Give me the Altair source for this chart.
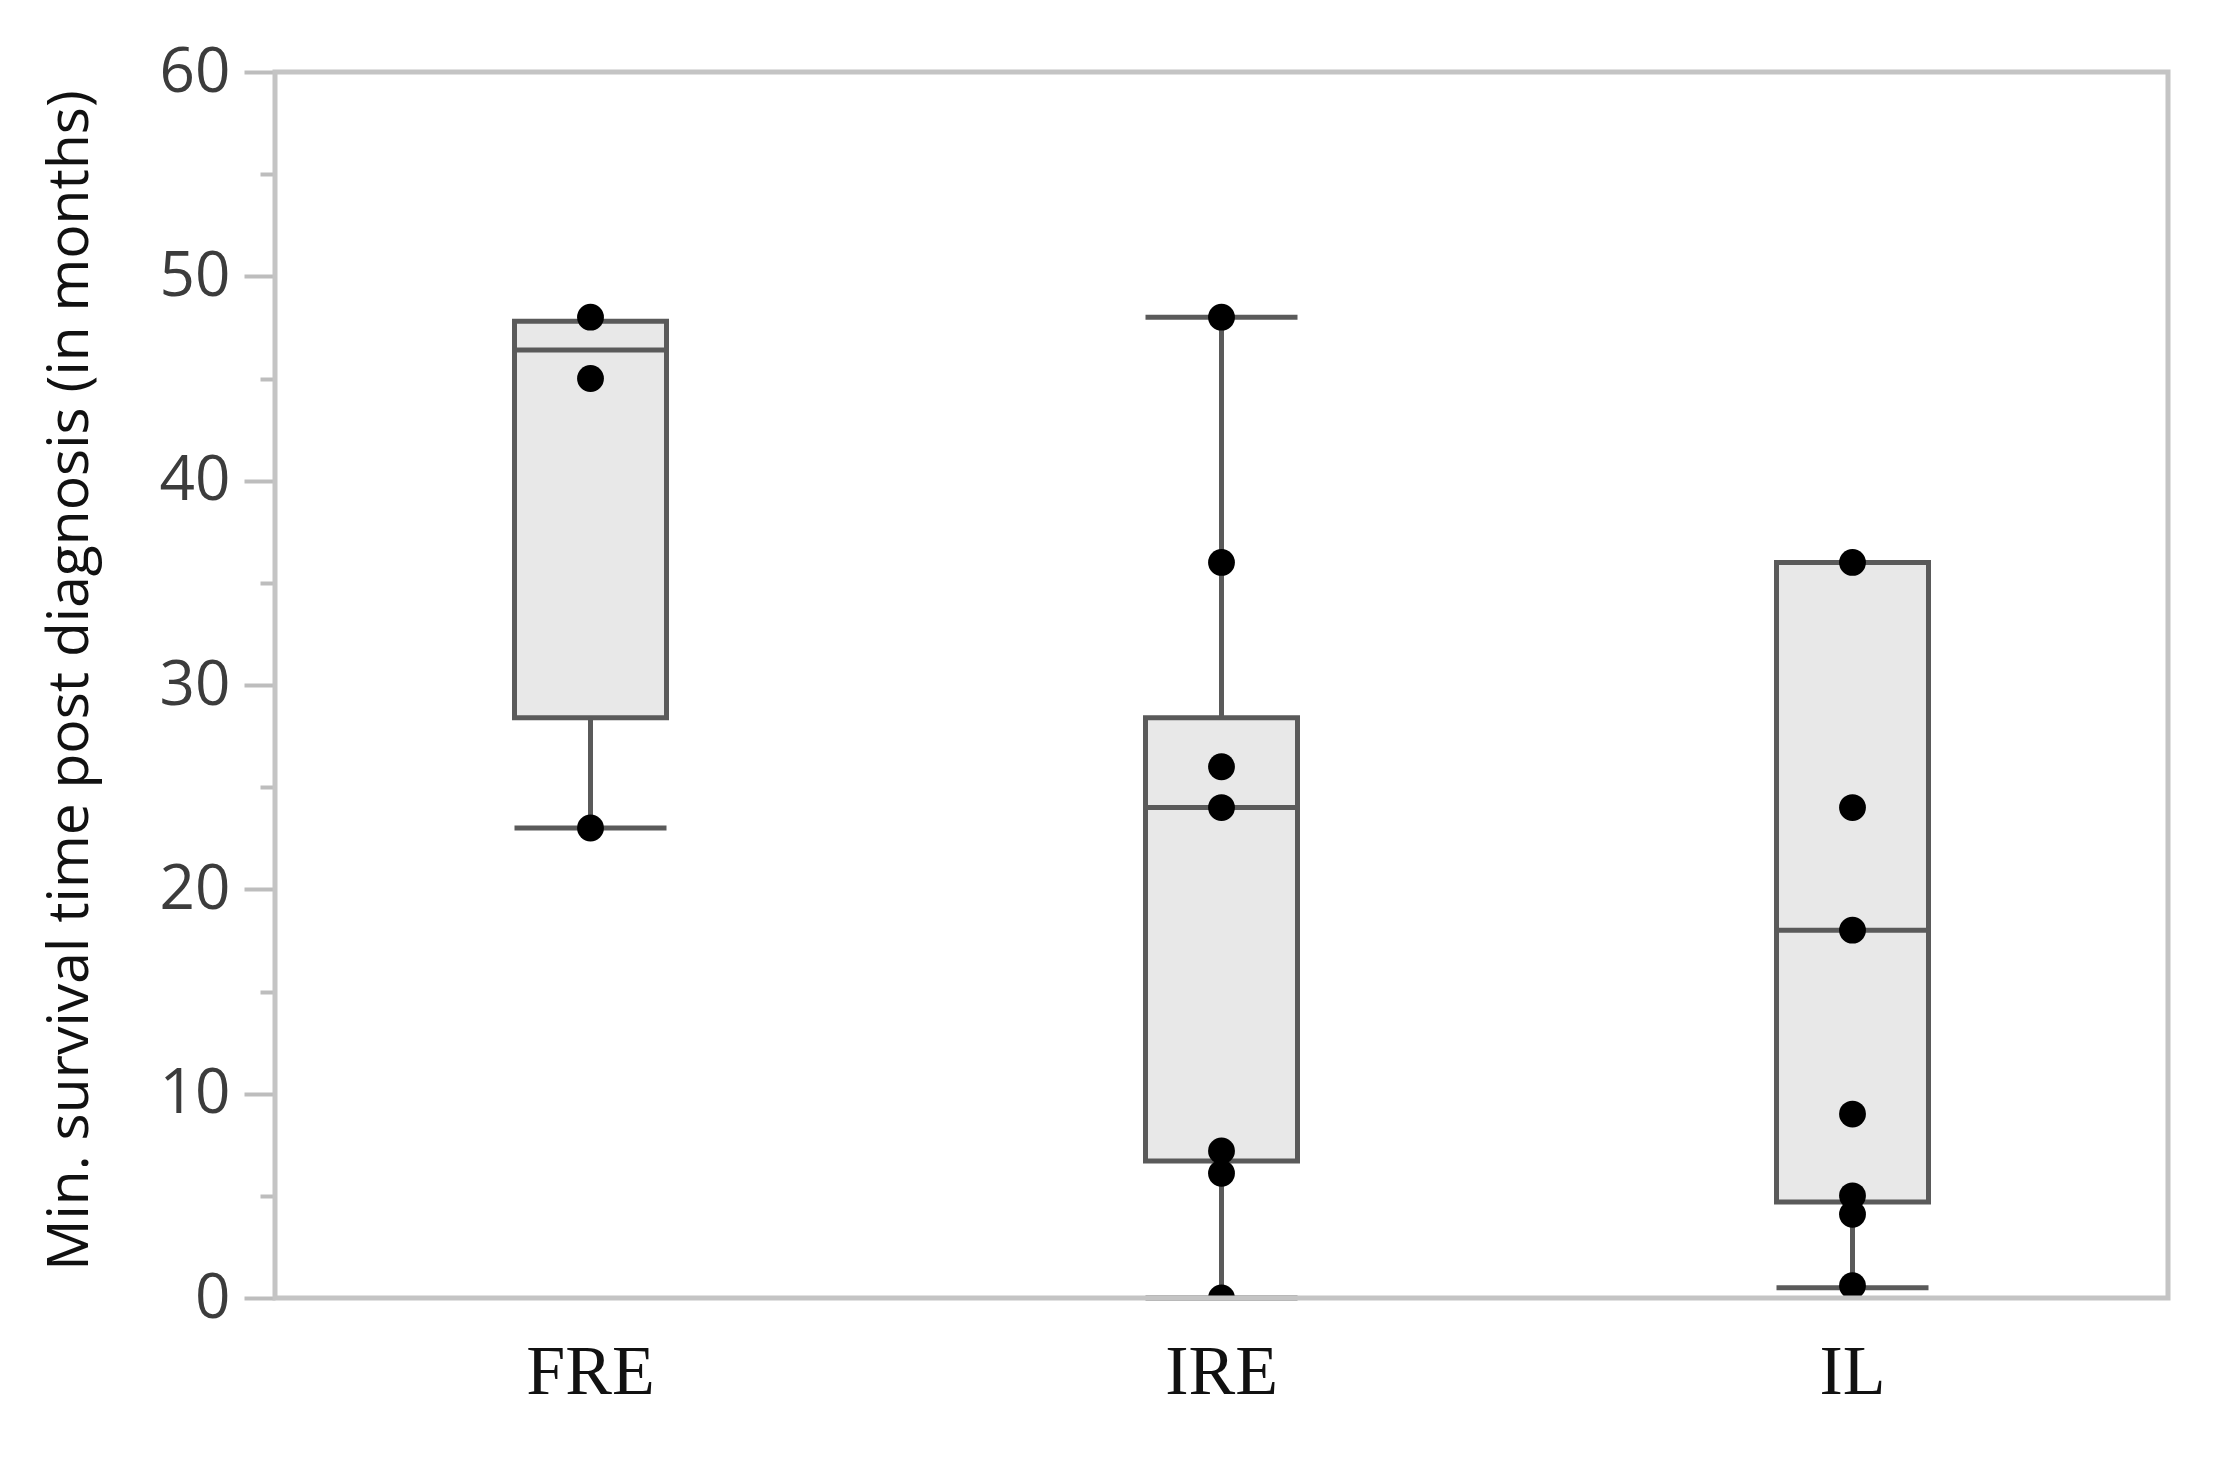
import altair as alt
import pandas as pd

# ---- data ----
categories = ["FRE", "IRE", "IL"]
q1 = [28.4, 6.7, 4.7]
median = [46.4, 24.0, 18.0]
q3 = [47.8, 28.4, 36.0]
whisker_low = [23.0, 0.0, 0.5]
whisker_high = [47.8, 48.0, 36.0]

points_fre = [48.0, 45.0, 23.0]
points_ire = [48.0, 36.0, 26.0, 24.0, 7.2, 6.1, 0.0]
points_il = [36.0, 24.0, 18.0, 9.0, 5.0, 4.1, 0.6]

y_axis_values = [0, 5, 10, 15, 20, 25, 30, 35, 40, 45, 50, 55, 60]
y_title = "Min. survival time post diagnosis (in months)"

# ---- tables ----
box_df = pd.DataFrame({
    "group": categories, "q1": q1, "median": median, "q3": q3,
    "lo": whisker_low, "hi": whisker_high,
})
pts_df = pd.DataFrame(
    [{"group": "FRE", "v": v} for v in points_fre]
    + [{"group": "IRE", "v": v} for v in points_ire]
    + [{"group": "IL", "v": v} for v in points_il]
)
whisk_df = pd.DataFrame(
    [{"group": g, "a": lo, "b": a} for g, lo, a in zip(categories, whisker_low, q1) if lo < a]
    + [{"group": g, "a": b, "b": hi} for g, b, hi in zip(categories, q3, whisker_high) if hi > b]
)
cap_df = pd.DataFrame(
    [{"group": g, "v": lo} for g, lo, a in zip(categories, whisker_low, q1) if lo < a]
    + [{"group": g, "v": hi} for g, b, hi in zip(categories, q3, whisker_high) if hi > b]
)

PW, PH = 1893, 1226
BOX_W = 152
LINE = "#5a5a5a"

x_enc = alt.X(
    "group:N", sort=categories,
    scale=alt.Scale(paddingInner=0, paddingOuter=0),
    axis=alt.Axis(
        title=None, labelAngle=0, ticks=False, domain=False,
        labelFont="Liberation Serif", labelFontSize=70, labelColor="#111111",
        labelPadding=40, labelBaseline="top",
    ),
)
y_scale = alt.Scale(domain=[0, 60], nice=False, zero=True)
y_axis = alt.Axis(
    title=y_title, grid=False, domain=False, values=y_axis_values,
    labelExpr="datum.value % 10 === 0 ? datum.label : ''",
    tickSize={"condition": {"test": "datum.value % 10 === 0", "value": 31}, "value": 15},
    tickColor="#bdbdbd", tickWidth=4,
    labelFont="Open Sans", labelFontSize=62, labelColor="#3c3c3c", labelPadding=14,
    titleFont="Open Sans", titleFontSize=57, titleColor="#111111", titleFontWeight=500,
    titleAngle=-90, titleX=-205, titleY=608, titleAlign="center", titleBaseline="middle",
)

frame = alt.Chart(pd.DataFrame({"k": [0]})).mark_rect(
    fill="transparent", stroke="#c4c4c4", strokeWidth=5
).encode(
    x=alt.value(0), x2=alt.value({"expr": "width"}),
    y=alt.value(0), y2=alt.value({"expr": "height"}),
)

box = alt.Chart(box_df).mark_bar(
    width=BOX_W, fill="#e8e8e8", stroke=LINE, strokeWidth=5
).encode(x=x_enc, y=alt.Y("q1:Q", scale=y_scale, axis=y_axis), y2="q3:Q")

med = alt.Chart(box_df).mark_tick(
    size=BOX_W, thickness=5, color=LINE, opacity=1
).encode(x=alt.X("group:N", sort=categories), y=alt.Y("median:Q"))

whisk = alt.Chart(whisk_df).mark_rule(
    color=LINE, strokeWidth=5
).encode(x=alt.X("group:N", sort=categories), y="a:Q", y2="b:Q")

caps = alt.Chart(cap_df).mark_tick(
    size=BOX_W, thickness=5, color=LINE, opacity=1
).encode(x=alt.X("group:N", sort=categories), y="v:Q")

pts = alt.Chart(pts_df).mark_circle(
    size=720, color="#000000", opacity=1, clip=True
).encode(x=alt.X("group:N", sort=categories), y="v:Q")

chart = alt.layer(box, med, whisk, caps, pts, frame).properties(
    width=PW, height=PH,
    padding={"left": 267, "top": 64, "right": 40, "bottom": 140},
    autosize=alt.AutoSizeParams(type="none"),
).configure_view(
    stroke=None
).configure(background="white")

chart.save("out.html", embed_options={"renderer": "svg", "actions": False})
